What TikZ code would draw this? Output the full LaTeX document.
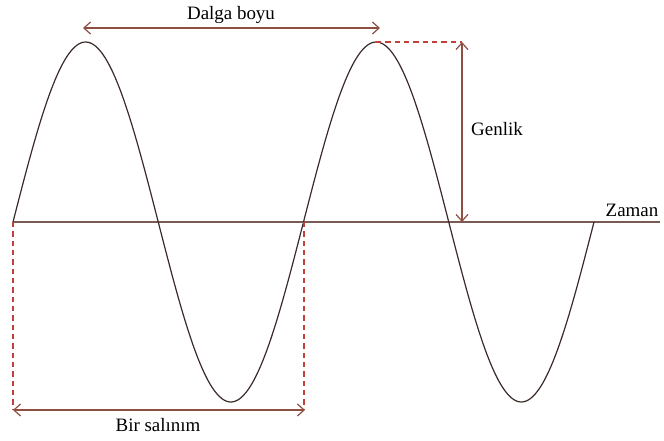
\documentclass[tikz,border=0pt]{standalone}
\usepackage{fontspec}
\setmainfont{Liberation Serif}
\usetikzlibrary{arrows.meta}
\definecolor{wavec}{HTML}{3A2A28}
\definecolor{axisc}{HTML}{7A5A55}
\definecolor{arrc}{HTML}{8E4E40}
\definecolor{dashc}{HTML}{C0403A}
\tikzset{
  dim/.style={draw=arrc, line width=0.9pt, {Straight Barb[length=5pt,width=9pt]}-{Straight Barb[length=5pt,width=9pt]}},
  guide/.style={draw=dashc, line width=0.8pt, dash pattern=on 4pt off 3pt},
  lbl/.style={font=\fontsize{14.2}{16}\selectfont, text=black, inner sep=0pt}
}
\begin{document}
\begin{tikzpicture}[x=0.75pt,y=-0.75pt]
\useasboundingbox (0,0) rectangle (664,440);
% axis
\coordinate (o) at (13,222);
\coordinate (axend) at (660,222);
\draw[axisc, line width=0.9pt] (o) -- (axend);
\node[lbl, anchor=base] (zaman) at (632,216) {Zaman};
% wave (t in degrees, 0..720)
\draw[wavec, line width=0.9pt, domain=0:720, samples=240, smooth, variable=\t]
  plot ({13 + 0.806944*\t}, {222 - 180*sin(\t)});
% key points
\coordinate (p2) at (376,42);
\coordinate (gtop) at (462,42);
\coordinate (gbot) at (462,222);
\coordinate (z2) at (304,222);
\coordinate (b1) at (13,410);
\coordinate (b2) at (305,410);
\coordinate (b2d) at (304,410);
\coordinate (d1) at (83,28);
\coordinate (d2) at (380,28);
% dashed guides
\draw[guide] (p2) -- (gtop);
\draw[guide] (o) -- (b1);
\draw[guide] (z2) -- (b2d);
% dimension arrows
\draw[dim] (d1) -- (d2);
\draw[dim] (gtop) -- (gbot);
\draw[dim] (b1) -- (b2);
% labels
\node[lbl] (dalga) at (231,15) {Dalga boyu};
\node[lbl] (genlik) at (497,129) {Genlik};
\node[lbl] (salinim) at (158,425) {Bir salınım};
\end{tikzpicture}
\end{document}
